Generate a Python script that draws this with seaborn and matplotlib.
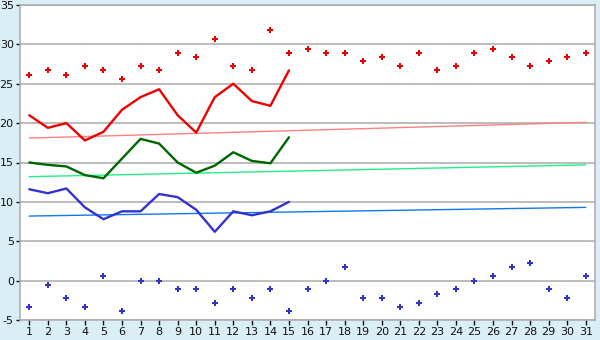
import numpy as np
import pandas as pd
import matplotlib
matplotlib.use("Agg")
import matplotlib.pyplot as plt
import seaborn as sns

days = list(range(1, 32))
max_points = [26.1, 26.7, 26.1, 27.2, 26.7, 25.6, 27.2, 26.7, 28.9, 28.4,
              30.7, 27.2, 26.7, 31.8, 28.9, 29.4, 28.9, 28.9, 27.9, 28.4,
              27.2, 28.9, 26.7, 27.2, 28.9, 29.4, 28.4, 27.2, 27.9, 28.4, 28.9]
min_points = [-3.3, -0.6, -2.2, -3.3, 0.6, -3.9, 0.0, 0.0, -1.1, -1.1,
              -2.8, -1.1, -2.2, -1.1, -3.9, -1.1, 0.0, 1.7, -2.2, -2.2,
              -3.3, -2.8, -1.7, -1.1, 0.0, 0.6, 1.7, 2.2, -1.1, -2.2, 0.6]
line_days = list(range(1, 16))
max_line = [21.0, 19.4, 20.0, 17.8, 18.9, 21.7, 23.3, 24.3, 21.0, 18.8,
            23.3, 25.0, 22.8, 22.2, 26.7]
mean_line = [15.0, 14.7, 14.5, 13.4, 13.0, 15.5, 18.0, 17.4, 15.0, 13.7,
             14.6, 16.3, 15.2, 14.9, 18.2]
min_line = [11.6, 11.1, 11.7, 9.3, 7.8, 8.8, 8.8, 11.0, 10.6, 9.0,
            6.2, 8.8, 8.3, 8.8, 10.0]
trend_days = [1, 31]
max_trend = [18.1, 20.1]
mean_trend = [13.2, 14.7]
min_trend = [8.2, 9.3]
y_ticks = [-5, 0, 5, 10, 15, 20, 25, 30, 35]

sns.set_style("white")
plt.rcParams['font.family'] = ['DejaVu Sans']
plt.rcParams['axes.unicode_minus'] = False

fig = plt.figure(figsize=(6, 3.4), dpi=100)
fig.patch.set_facecolor("#DAEEF5")
ax = fig.add_axes([20/600, 20/340, 575/600, 315/340])
ax.set_facecolor("white")

for yv in y_ticks:
    ax.axhline(yv, color="#AAAAAA", lw=1.1, zorder=0)

sns.lineplot(x=trend_days, y=max_trend, ax=ax, color="#FF8080", lw=1.0)
sns.lineplot(x=trend_days, y=mean_trend, ax=ax, color="#22EE88", lw=1.0)
sns.lineplot(x=trend_days, y=min_trend, ax=ax, color="#1177EE", lw=1.0)

sns.lineplot(x=line_days, y=max_line, ax=ax, color="#EE0000", lw=1.7)
sns.lineplot(x=line_days, y=mean_line, ax=ax, color="#006600", lw=1.7)
sns.lineplot(x=line_days, y=min_line, ax=ax, color="#3333CC", lw=1.7)

sns.scatterplot(x=days, y=max_points, ax=ax, color="#EE0000", marker="P",
                s=22, linewidth=0)
sns.scatterplot(x=days, y=min_points, ax=ax, color="#3333CC", marker="P",
                s=22, linewidth=0)

ax.set_xlim(0.5, 31.5)
ax.set_ylim(-5, 35)
ax.set_xticks(days)
ax.set_xticklabels([str(d) for d in days])
ax.set_yticks(y_ticks)
ax.tick_params(axis="both", labelsize=8, colors="#111111", length=3.5,
               width=1, direction="out", pad=1.5)
ax.tick_params(axis="x", bottom=True)
ax.tick_params(axis="y", left=True, length=3)
for side in ["left", "bottom", "right", "top"]:
    ax.spines[side].set_color("#AAAAAA")
    ax.spines[side].set_linewidth(1.1)
ax.set_xlabel("")
ax.set_ylabel("")

fig.savefig("out.png", dpi=100, facecolor=fig.get_facecolor())
